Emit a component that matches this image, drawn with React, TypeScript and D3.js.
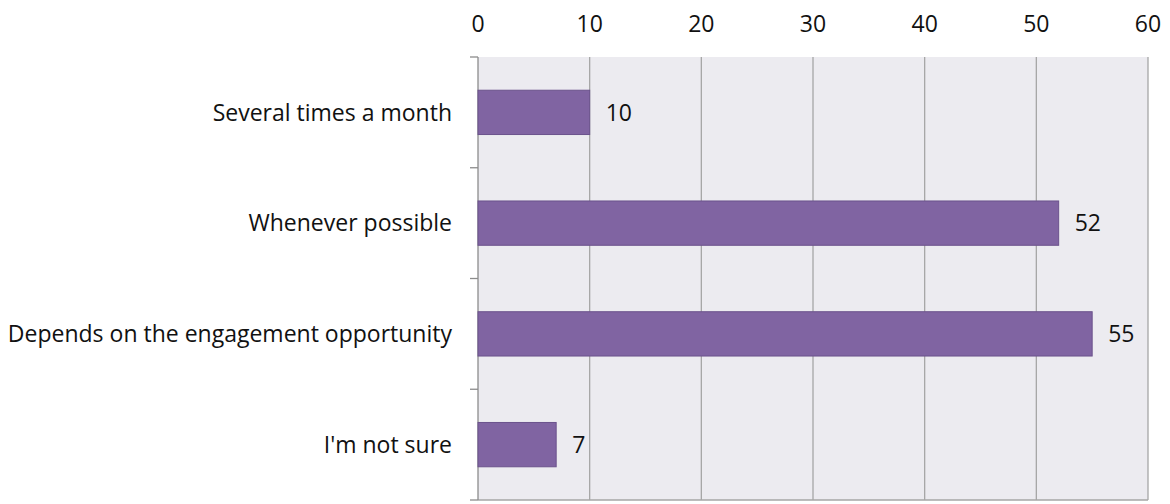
import React from 'react';
import * as d3 from 'd3';

const categories = ["Several times a month", "Whenever possible", "Depends on the engagement opportunity", "I'm not sure"];
const values = [10, 52, 55, 7];
const xTicks = [0, 10, 20, 30, 40, 50, 60];

const width = 1170;
const height = 504;
const marginTop = 57;
const marginLeft = 478;
const marginRight = 22;
const marginBottom = 4;
const font = "'Open Sans', sans-serif";
const fontSize = 23;

const App: React.FC = () => {
  const x = d3.scaleLinear().domain([0, 60]).range([marginLeft, width - marginRight]);
  const y = d3.scaleBand<string>()
    .domain(categories)
    .range([marginTop, height - marginBottom])
    .paddingInner(0.6)
    .paddingOuter(0.3);

  // band boundaries for the little left ticks
  const bounds = categories.map((_, i) => marginTop + i * y.step()).concat([height - marginBottom]);

  return (
    <svg width={width} height={height} style={{ position: 'absolute', left: 0, top: 0 }} fontFamily={font}>
      <rect x={x(0)} y={marginTop} width={x(60) - x(0)} height={height - marginBottom - marginTop} fill="#ecebf0" />

      {xTicks.map(t => (
        <g key={t}>
          {t > 0 && <line x1={x(t)} x2={x(t)} y1={marginTop} y2={height - marginBottom} stroke="#a6a6a6" strokeWidth={1.3} />}
          <text x={x(t)} y={32} textAnchor="middle" fontSize={fontSize} fill="#111">{t}</text>
        </g>
      ))}

      <line x1={x(0)} x2={x(60)} y1={height - marginBottom} y2={height - marginBottom} stroke="#a6a6a6" strokeWidth={1.3} />
      <line x1={x(0)} x2={x(0)} y1={marginTop} y2={height - marginBottom} stroke="#8c8c8c" strokeWidth={1.3} />
      {bounds.map((b, i) => (
        <line key={i} x1={x(0) - 8} x2={x(0)} y1={b} y2={b} stroke="#8c8c8c" strokeWidth={1.3} />
      ))}

      {categories.map((c, i) => (
        <g key={c}>
          <rect x={x(0)} y={y(c)!} width={x(values[i]) - x(0)} height={y.bandwidth()} fill="#8064a2" stroke="#6b528c" strokeWidth={1} />
          <text x={x(values[i]) + 16} y={y(c)! + y.bandwidth() / 2} dy="0.36em" fontSize={fontSize} fill="#111">{values[i]}</text>
          <text x={x(0) - 26} y={y(c)! + y.bandwidth() / 2} dy="0.36em" textAnchor="end" fontSize={fontSize} fill="#111">{c}</text>
        </g>
      ))}
    </svg>
  );
};

export default App;
